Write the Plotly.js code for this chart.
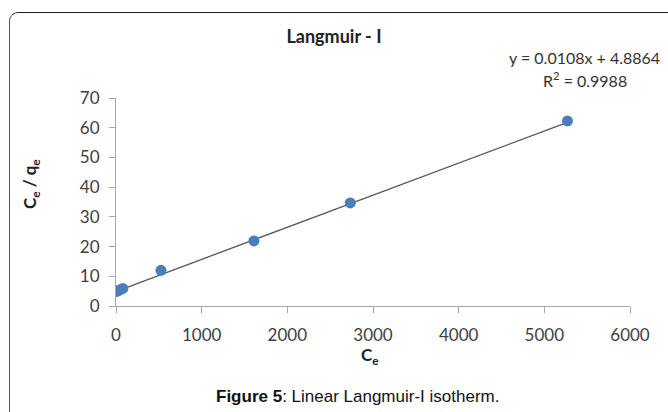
<!DOCTYPE html>
<html>
<head>
<meta charset="utf-8">
<script src="https://cdn.plot.ly/plotly-3.0.1.min.js"></script>
<style>
html,body{margin:0;padding:0;background:#fff;overflow:hidden;}
#frame{position:absolute;left:9px;top:12px;width:700px;height:420px;border-left:1.5px solid #555;border-top:1.5px solid #222;border-top-left-radius:9px;pointer-events:none;}
#chart{position:absolute;left:0;top:0;width:668px;height:412px;}
</style>
</head>
<body>
<div id="chart"></div>
<div id="frame"></div>
<script>
const ce = [5, 20, 45, 80, 525, 1610, 2735, 5270];
const ceqe = [4.9, 5.1, 5.4, 5.9, 12.0, 21.9, 34.7, 62.3];
const slope = 0.0108;
const intercept = 4.8864;
const r2 = 0.9988;
const xTicks = [0, 1000, 2000, 3000, 4000, 5000, 6000];
const yTicks = [0, 10, 20, 30, 40, 50, 60, 70];

const xmin = Math.min(...ce), xmax = Math.max(...ce);
const trendX = [xmin, xmax];
const trendY = trendX.map(v => slope * v + intercept);

const data = [
  {x: trendX, y: trendY, mode: 'lines', type: 'scatter',
   line: {color: '#555555', width: 1.3}, hoverinfo: 'skip', showlegend: false},
  {x: ce, y: ceqe, mode: 'markers', type: 'scatter',
   marker: {color: '#4a7ebb', size: 11}, showlegend: false}
];

const font = 'Lato, "Open Sans", sans-serif';
const layout = {
  width: 668, height: 412,
  margin: {l: 116, r: 38, t: 98, b: 106},
  paper_bgcolor: '#fff', plot_bgcolor: '#fff',
  font: {family: font, color: '#404040', size: 17},
  title: {text: '<b>Langmuir - I</b>', x: 0.5, xref: 'container', xanchor: 'center',
          y: 0.912, yref: 'container', yanchor: 'middle',
          font: {family: font, size: 18, color: '#222'}},
  xaxis: {range: [0, 6000], tickvals: xTicks, ticktext: xTicks.map(String),
          showgrid: false, zeroline: false, showline: true, linecolor: '#a6a6a6', linewidth: 1,
          ticks: 'outside', ticklen: 6, tickcolor: '#a6a6a6', ticklabelstandoff: 8,
          tickfont: {family: font, size: 17, color: '#404040'}},
  yaxis: {range: [0, 70], tickvals: yTicks, ticktext: yTicks.map(String),
          showgrid: false, zeroline: false, showline: true, linecolor: '#a6a6a6', linewidth: 1,
          ticks: 'outside', ticklen: 6, tickcolor: '#a6a6a6', ticklabelstandoff: 6,
          tickfont: {family: font, size: 17, color: '#404040'}},
  annotations: [
    {xref: 'paper', yref: 'paper', x: 0.494, y: -0.24, xanchor: 'center', yanchor: 'middle',
     text: '<b>C<sub>e</sub></b>', showarrow: false,
     font: {family: font, size: 17, color: '#222'}},
    {xref: 'paper', yref: 'paper', x: -0.165, y: 0.587, xanchor: 'center', yanchor: 'middle',
     text: '<b>C<sub>e</sub> / q<sub>e</sub></b>', showarrow: false, textangle: -90,
     font: {family: font, size: 17, color: '#222'}},
    {xref: 'paper', yref: 'paper', x: 0.912, y: 1.197, xanchor: 'center', yanchor: 'middle',
     text: 'y = ' + slope.toFixed(4) + 'x + ' + intercept.toFixed(4), showarrow: false,
     font: {family: font, size: 16, color: '#333'}},
    {xref: 'paper', yref: 'paper', x: 0.912, y: 1.091, xanchor: 'center', yanchor: 'middle',
     text: 'R<sup>2</sup> = ' + r2.toFixed(4), showarrow: false,
     font: {family: font, size: 16, color: '#333'}},
    {xref: 'paper', yref: 'paper', x: 0.469, y: -0.435, xanchor: 'center', yanchor: 'middle',
     text: '<b>Figure 5</b>: Linear Langmuir-I isotherm.', showarrow: false,
     font: {family: '"Liberation Sans", Arial, sans-serif', size: 17, color: '#111'}}
  ]
};
Plotly.newPlot('chart', data, layout, {displayModeBar: false, staticPlot: true});
</script>
</body>
</html>
